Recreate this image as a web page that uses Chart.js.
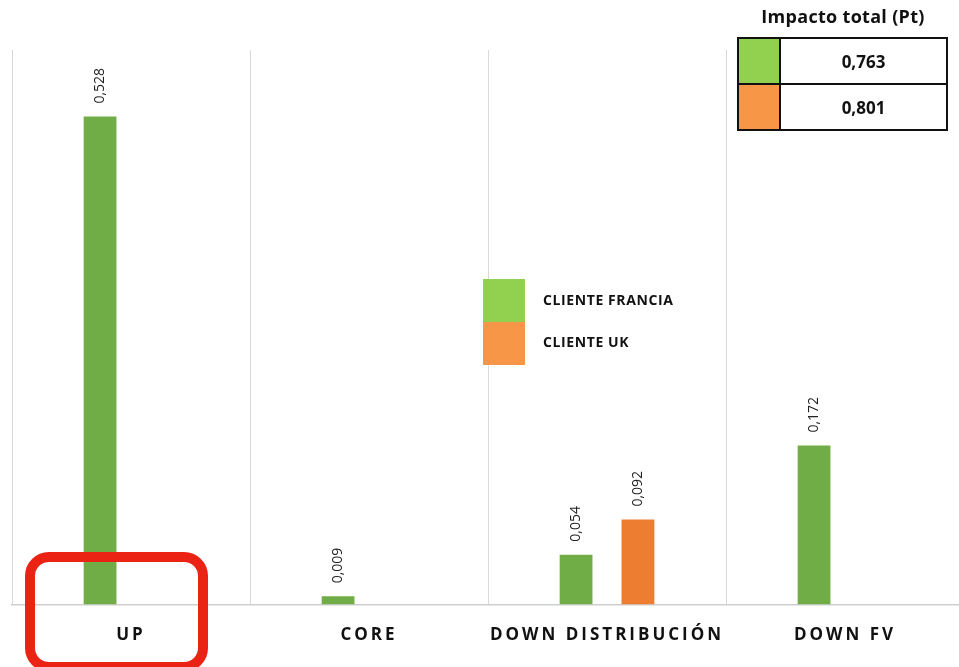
<!DOCTYPE html>
<html>
<head>
<meta charset="utf-8">
<script src="https://cdn.jsdelivr.net/npm/chart.js@4.4.1/dist/chart.umd.min.js"></script>
<style>
  html, body { margin: 0; padding: 0; background: #fff; overflow: hidden; }
  #wrap { position: absolute; left: 0; top: 0; width: 975px; height: 667px; }
  .title { position: absolute; left: 737px; width: 212px; top: 4px; text-align: center;
           font: bold 18px "Open Sans", sans-serif; color: #111; letter-spacing: 0.3px; }
  table.tot { position: absolute; left: 737px; top: 37px; border-collapse: collapse; }
  table.tot td { border: 2px solid #111; height: 44px; padding: 0; }
  table.tot td.sw { width: 40px; }
  table.tot td.val { width: 165px; text-align: center; font: bold 17px "Open Sans", sans-serif; color: #111; }
  .leg { position: absolute; left: 483px; width: 42px; height: 43px; }
  .legtxt { position: absolute; left: 543px; font: bold 14px "Open Sans", sans-serif; color: #111; letter-spacing: 0.6px; }
  .redbox { position: absolute; left: 25px; top: 552px; width: 163px; height: 100px;
            border: 10px solid #ea2314; border-radius: 24px; }
</style>
</head>
<body>
<div id="wrap"><canvas id="chart"></canvas></div>

<div class="title">Impacto total (Pt)</div>
<table class="tot">
  <tr><td class="sw" style="background:#92d050"></td><td class="val" id="tot0"></td></tr>
  <tr><td class="sw" style="background:#f79646"></td><td class="val" id="tot1"></td></tr>
</table>

<div class="leg" style="top:279px;background:#92d050"></div>
<div class="leg" style="top:322px;background:#f79646"></div>
<div class="legtxt" style="top:290px" id="leg0"></div>
<div class="legtxt" style="top:332px" id="leg1"></div>

<div class="redbox"></div>

<script>
// datos
const categorias = ['UP', 'CORE', 'DOWN DISTRIBUCIÓN', 'DOWN FV'];
const series = ['CLIENTE FRANCIA', 'CLIENTE UK'];
const clienteFrancia = [0.528, 0.009, 0.054, 0.172];
const clienteUK = [null, null, 0.092, null];
const impactoTotal = [0.763, 0.801];

const fmt = v => v.toFixed(3).replace('.', ',');

document.getElementById('tot0').textContent = fmt(impactoTotal[0]);
document.getElementById('tot1').textContent = fmt(impactoTotal[1]);
document.getElementById('leg0').textContent = series[0];
document.getElementById('leg1').textContent = series[1];

// espaciado de letras para las etiquetas del eje
const spacing = {
  id: 'spacing',
  beforeDraw(chart) { chart.ctx.letterSpacing = '3px'; },
  beforeDatasetsDraw(chart) { chart.ctx.letterSpacing = '0px'; }
};

// etiquetas verticales encima de cada barra
const etiquetas = {
  id: 'etiquetas',
  afterDatasetsDraw(chart) {
    const ctx = chart.ctx;
    ctx.save();
    ctx.font = '14px "Open Sans", sans-serif';
    ctx.fillStyle = '#222';
    ctx.textAlign = 'left';
    ctx.textBaseline = 'middle';
    chart.data.datasets.forEach((ds, i) => {
      chart.getDatasetMeta(i).data.forEach((bar, j) => {
        const v = ds.data[j];
        if (v == null) return;
        ctx.save();
        ctx.translate(bar.x, bar.y - 13);
        ctx.rotate(-Math.PI / 2);
        ctx.fillText(fmt(v), 0, 0);
        ctx.restore();
      });
    });
    ctx.restore();
  }
};

new Chart(document.getElementById('chart'), {
  type: 'bar',
  data: {
    labels: categorias,
    datasets: [
      { label: series[0], data: clienteFrancia, backgroundColor: '#70ad47' },
      { label: series[1], data: clienteUK, backgroundColor: '#ed7d31' }
    ]
  },
  options: {
    responsive: true,
    maintainAspectRatio: false,
    animation: false,
    categoryPercentage: 0.52,
    barPercentage: 0.53,
    layout: { padding: { left: 12, right: 11, top: 50, bottom: 2 } },
    plugins: { legend: { display: false }, tooltip: { enabled: false } },
    scales: {
      y: { display: false, min: 0, max: 0.6 },
      x: {
        grid: { color: '#d9d9d9', drawTicks: false, offset: true },
        border: { color: '#cfcfcf', width: 1.5 },
        ticks: { color: '#111', padding: 20, font: { family: '"Open Sans", sans-serif', size: 17, weight: 'bold' } }
      }
    }
  },
  plugins: [spacing, etiquetas]
});
</script>
</body>
</html>
